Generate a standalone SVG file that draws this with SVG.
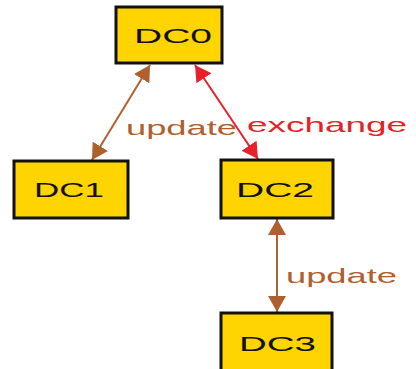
<svg xmlns="http://www.w3.org/2000/svg" width="416" height="369" viewBox="0 0 416 369">
<style>
.box{fill:#FFD400;stroke:#111;stroke-width:3}
.lbl{font-family:"Liberation Sans",Arial,sans-serif;font-size:20px;fill:#111}
.upd{font-family:"Liberation Sans",Arial,sans-serif;font-size:21px;fill:#B0602E}
.exc{font-family:"Liberation Sans",Arial,sans-serif;font-size:21px;fill:#E8202A}
.lb{stroke:#B0602E;stroke-width:2;fill:none}
.lr{stroke:#E8202A;stroke-width:2;fill:none}
</style>
<defs>
<marker id="ab" markerUnits="userSpaceOnUse" markerWidth="17" markerHeight="18" refX="16" refY="9" orient="auto-start-reverse" viewBox="0 0 17 18"><path d="M0,0 L16,9 L0,18 z" fill="#B0602E"/></marker>
<marker id="ar" markerUnits="userSpaceOnUse" markerWidth="17" markerHeight="18" refX="16" refY="9" orient="auto-start-reverse" viewBox="0 0 17 18"><path d="M0,0 L16,9 L0,18 z" fill="#E8202A"/></marker>
</defs>
<g id="connectors">
<line class="lb" x1="150" y1="65" x2="92" y2="160" marker-start="url(#ab)" marker-end="url(#ab)"/>
<line class="lr" x1="195" y1="65" x2="258" y2="159" marker-start="url(#ar)" marker-end="url(#ar)"/>
<line class="lb" x1="277" y1="219" x2="277" y2="312" marker-start="url(#ab)" marker-end="url(#ab)"/>
<text class="upd" x="126" y="135" textLength="111" lengthAdjust="spacingAndGlyphs">update</text>
<text class="exc" x="247" y="132" textLength="160" lengthAdjust="spacingAndGlyphs">exchange</text>
<text class="upd" x="286" y="283" textLength="111" lengthAdjust="spacingAndGlyphs">update</text>
</g>
<g id="DC0"><rect class="box" x="116" y="7" width="106" height="56"/><text class="lbl" x="134" y="43" textLength="78" lengthAdjust="spacingAndGlyphs">DC0</text></g>
<g id="DC1"><rect class="box" x="14" y="161" width="114" height="57"/><text class="lbl" x="34" y="197" textLength="70" lengthAdjust="spacingAndGlyphs">DC1</text></g>
<g id="DC2"><rect class="box" x="221" y="160" width="112" height="58"/><text class="lbl" x="236" y="197" textLength="78" lengthAdjust="spacingAndGlyphs">DC2</text></g>
<g id="DC3"><rect class="box" x="221" y="313" width="111" height="60"/><text class="lbl" x="239" y="351" textLength="77" lengthAdjust="spacingAndGlyphs">DC3</text></g>
</svg>
